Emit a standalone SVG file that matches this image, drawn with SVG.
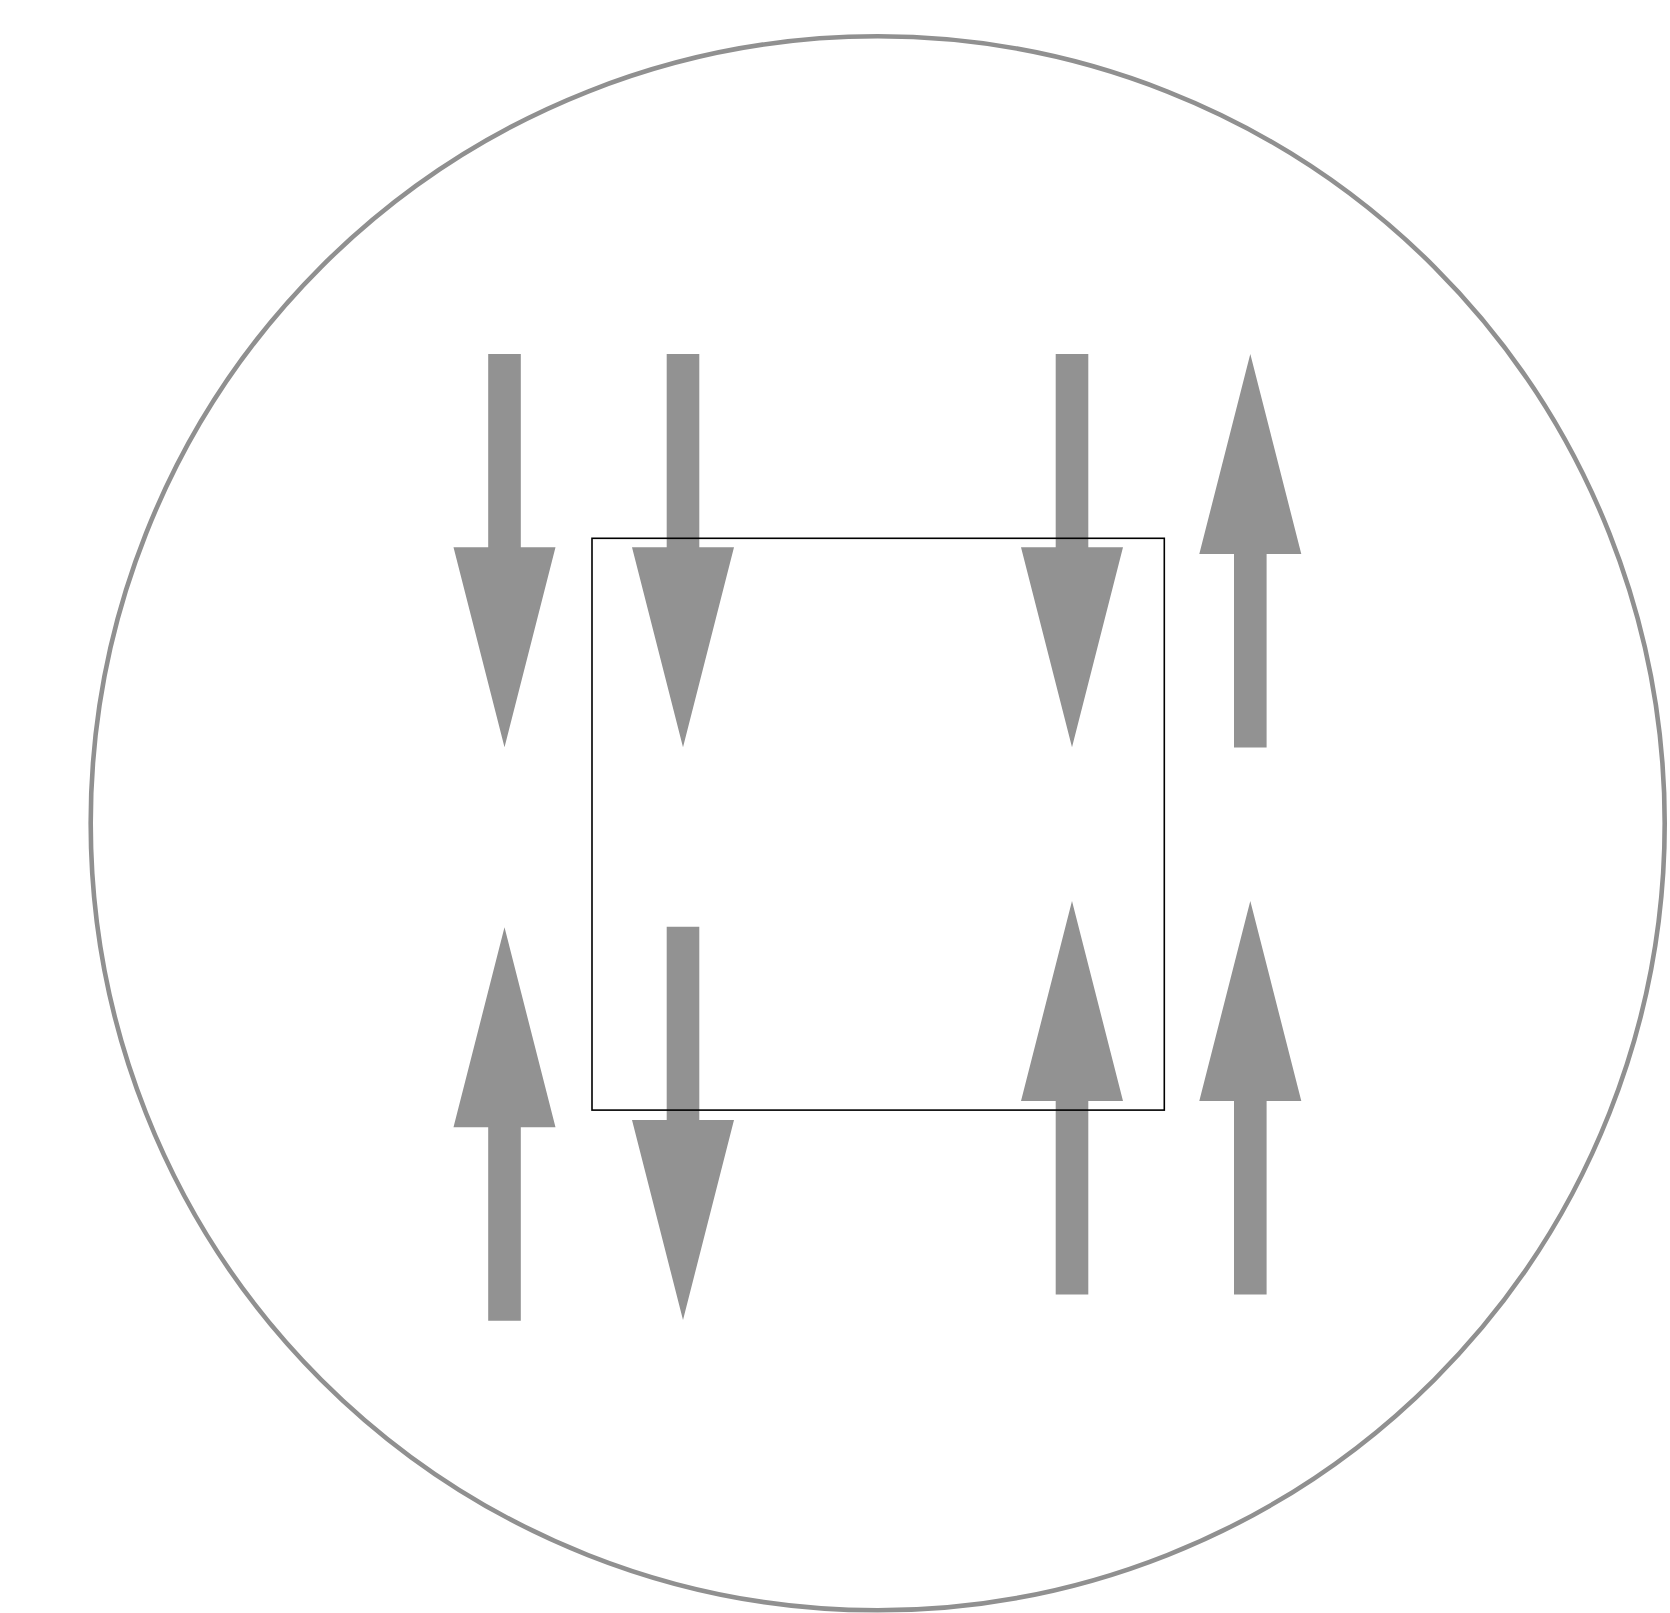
<svg xmlns="http://www.w3.org/2000/svg" xmlns:xlink="http://www.w3.org/1999/xlink" width="1670" height="1613" viewBox="0 0 1670 1613">
  <style>
    .arrow { fill: #929292; stroke: none; }
    .ring { fill: none; stroke: #909090; stroke-width: 4.6; }
    .box { fill: none; stroke: #000000; stroke-width: 1.6; }
  </style>
  <defs>
    <path id="down" class="arrow" d="M -16.3 0 L 16.3 0 L 16.3 193.3 L 51 193.3 L 0 393.3 L -51 193.3 L -16.3 193.3 Z"/>
    <path id="up" class="arrow" d="M 0 0 L 51 200 L 16.3 200 L 16.3 393.5 L -16.3 393.5 L -16.3 200 L -51 200 Z"/>
  </defs>
  <rect width="1670" height="1613" fill="#ffffff"/>
  <g id="circle">
    <circle class="ring" cx="877.7" cy="823.3" r="787"/>
  </g>
  <g id="arrow1"><use href="#down" xlink:href="#down" x="504.5" y="354"/></g>
  <g id="arrow2"><use href="#down" xlink:href="#down" x="683" y="354"/></g>
  <g id="arrow3"><use href="#down" xlink:href="#down" x="1072" y="354"/></g>
  <g id="arrow4"><use href="#up" xlink:href="#up" x="1250.3" y="354"/></g>
  <g id="arrow5"><use href="#up" xlink:href="#up" x="504.5" y="927.3"/></g>
  <g id="arrow6"><use href="#down" xlink:href="#down" x="683" y="926.7"/></g>
  <g id="arrow7"><use href="#up" xlink:href="#up" x="1072" y="901"/></g>
  <g id="arrow8"><use href="#up" xlink:href="#up" x="1250.3" y="901"/></g>
  <g id="box">
    <rect class="box" x="592" y="538.3" width="572.3" height="571.8"/>
  </g>
</svg>
